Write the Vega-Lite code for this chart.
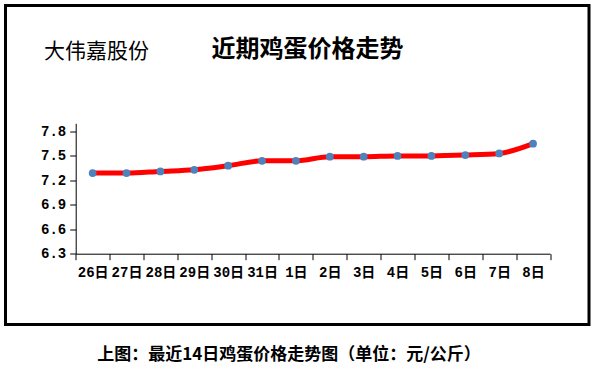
{
  "$schema": "https://vega.github.io/schema/vega-lite/v6.json",
  "width": 583.5,
  "height": 319,
  "autosize": {"type": "none"},
  "padding": {"left": 5.5, "top": 5.5, "right": 6, "bottom": 43.5},
  "background": "white",
  "title": {
    "text": "近期鸡蛋价格走势",
    "anchor": "start",
    "frame": "group",
    "align": "left",
    "baseline": "middle",
    "offset": 0,
    "dx": 206,
    "dy": 68.5,
    "font": "Noto Sans CJK SC",
    "fontSize": 24,
    "fontWeight": "bold",
    "color": "black"
  },
  "config": {
    "view": {"stroke": "black", "strokeWidth": 3},
    "axis": {"grid": false, "domainColor": "black", "tickColor": "black", "labelColor": "black", "titleColor": "black"}
  },
  "data": {
    "values": [
      {"day": "26日", "price": 7.29},
      {"day": "27日", "price": 7.29},
      {"day": "28日", "price": 7.31},
      {"day": "29日", "price": 7.33},
      {"day": "30日", "price": 7.38},
      {"day": "31日", "price": 7.44},
      {"day": "1日", "price": 7.44},
      {"day": "2日", "price": 7.49},
      {"day": "3日", "price": 7.49},
      {"day": "4日", "price": 7.50},
      {"day": "5日", "price": 7.50},
      {"day": "6日", "price": 7.51},
      {"day": "7日", "price": 7.53},
      {"day": "8日", "price": 7.65}
    ]
  },
  "encoding": {
    "x": {
      "field": "day",
      "type": "nominal",
      "sort": null,
      "scale": {"range": [70.2, 544.5], "paddingInner": 0, "paddingOuter": 0},
      "axis": {
        "offset": -70.8,
        "tickBand": "extent",
        "tickSize": 6,
        "labelAngle": 0,
        "labelPadding": 6,
        "labelFont": "Liberation Mono, Noto Sans CJK SC",
        "labelFontSize": 14,
        "labelFontWeight": "bold",
        "title": "上图：最近14日鸡蛋价格走势图（单位：元/公斤）",
        "titleX": 283,
        "titleY": 101,
        "titleAnchor": null,
        "titleAlign": "center",
        "titleBaseline": "middle",
        "titleFont": "Noto Sans CJK SC",
        "titleFontSize": 17,
        "titleFontWeight": "bold"
      }
    },
    "y": {
      "field": "price",
      "type": "quantitative",
      "scale": {"domain": [6.3, 7.9], "range": [248.2, 117.8], "nice": false, "zero": false},
      "axis": {
        "offset": -70.2,
        "values": [6.3, 6.6, 6.9, 7.2, 7.5, 7.8],
        "format": ".1f",
        "tickSize": 6,
        "labelPadding": 4,
        "labelFont": "Liberation Mono",
        "labelFontSize": 14,
        "labelFontWeight": "bold",
        "title": "大伟嘉股份",
        "titleAngle": 0,
        "titleX": 20.3,
        "titleY": 45.5,
        "titleAlign": "center",
        "titleBaseline": "middle",
        "titleFont": "Noto Sans CJK SC",
        "titleFontSize": 21,
        "titleFontWeight": "normal"
      }
    }
  },
  "layer": [
    {"mark": {"type": "line", "color": "#FF0000", "strokeWidth": 5, "interpolate": "monotone"}},
    {"mark": {"type": "point", "filled": true, "color": "#4F81BD", "opacity": 1, "size": 60}}
  ]
}
